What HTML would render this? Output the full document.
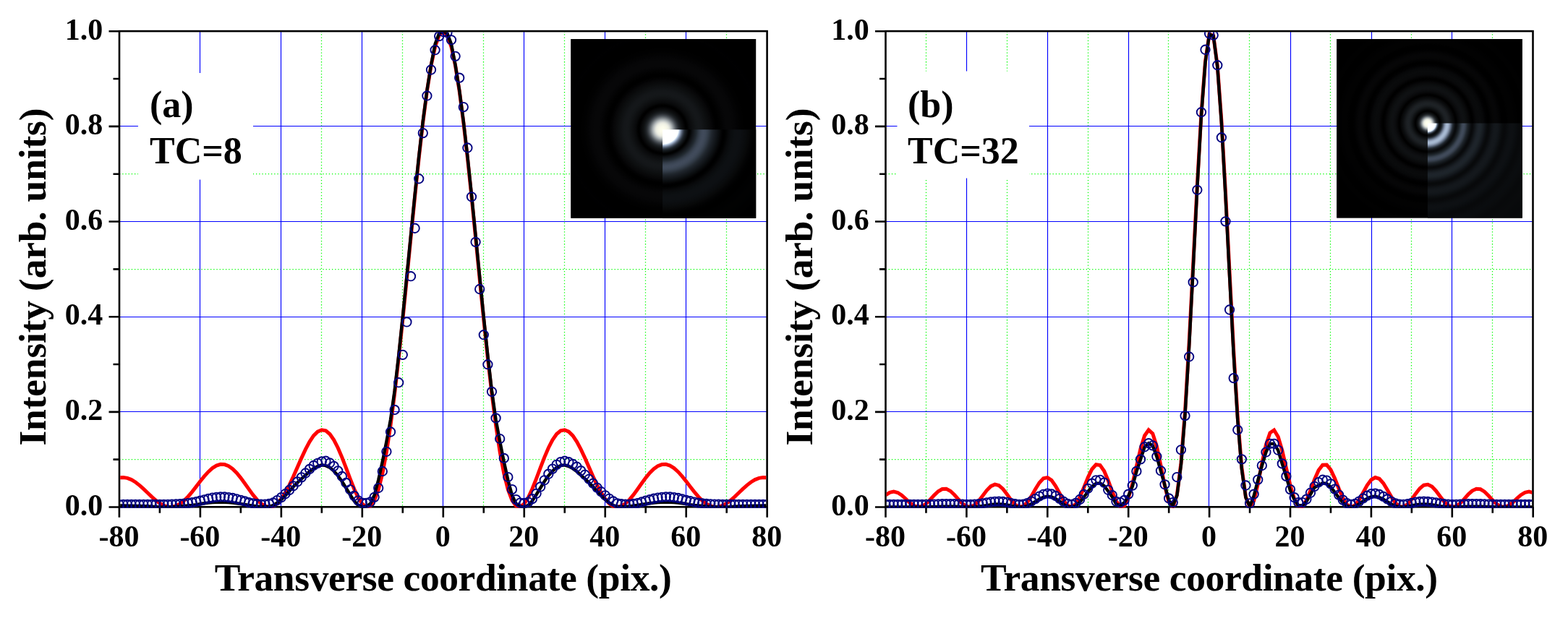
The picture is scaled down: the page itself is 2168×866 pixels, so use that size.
<!DOCTYPE html>
<html lang="en"><head><meta charset="utf-8"><title>Intensity profiles</title>
<style>
html,body{margin:0;padding:0;background:#fff;}
body{width:2168px;height:866px;overflow:hidden;}
svg{display:block;}
text.b{font-family:"Liberation Serif", serif;font-weight:bold;fill:#000;}
</style></head><body>
<svg width="2168" height="866" viewBox="0 0 2168 866">
<defs><radialGradient id="gta" gradientUnits="userSpaceOnUse" cx="0" cy="0" r="200"><stop offset="0.0000" stop-color="#ffffee"/><stop offset="0.0083" stop-color="#fefeee"/><stop offset="0.0167" stop-color="#fcfcec"/><stop offset="0.0250" stop-color="#f9f9ea"/><stop offset="0.0333" stop-color="#f4f5e7"/><stop offset="0.0417" stop-color="#eeefe4"/><stop offset="0.0500" stop-color="#dfe1da"/><stop offset="0.0583" stop-color="#c6cac8"/><stop offset="0.0667" stop-color="#abb1b3"/><stop offset="0.0750" stop-color="#8c9296"/><stop offset="0.0833" stop-color="#6e7478"/><stop offset="0.0917" stop-color="#51575d"/><stop offset="0.1000" stop-color="#3b4046"/><stop offset="0.1083" stop-color="#292d31"/><stop offset="0.1167" stop-color="#1c2023"/><stop offset="0.1250" stop-color="#141719"/><stop offset="0.1333" stop-color="#0e1011"/><stop offset="0.1417" stop-color="#0a0b0c"/><stop offset="0.1500" stop-color="#060607"/><stop offset="0.1583" stop-color="#010101"/><stop offset="0.1667" stop-color="#000000"/><stop offset="0.1750" stop-color="#030303"/><stop offset="0.1833" stop-color="#070809"/><stop offset="0.1917" stop-color="#0a0b0c"/><stop offset="0.2000" stop-color="#0c0d0f"/><stop offset="0.2083" stop-color="#0e1011"/><stop offset="0.2167" stop-color="#101214"/><stop offset="0.2250" stop-color="#121416"/><stop offset="0.2333" stop-color="#131618"/><stop offset="0.2417" stop-color="#141719"/><stop offset="0.2500" stop-color="#15171a"/><stop offset="0.2583" stop-color="#141719"/><stop offset="0.2667" stop-color="#141619"/><stop offset="0.2750" stop-color="#121517"/><stop offset="0.2833" stop-color="#111315"/><stop offset="0.2917" stop-color="#0f1113"/><stop offset="0.3000" stop-color="#0e1011"/><stop offset="0.3083" stop-color="#0c0e0f"/><stop offset="0.3167" stop-color="#0b0c0d"/><stop offset="0.3250" stop-color="#090a0b"/><stop offset="0.3333" stop-color="#080809"/><stop offset="0.3417" stop-color="#060607"/><stop offset="0.3500" stop-color="#030304"/><stop offset="0.3583" stop-color="#020202"/><stop offset="0.3667" stop-color="#000000"/><stop offset="0.3750" stop-color="#000000"/><stop offset="0.3833" stop-color="#000000"/><stop offset="0.3917" stop-color="#010101"/><stop offset="0.4000" stop-color="#020202"/><stop offset="0.4083" stop-color="#030303"/><stop offset="0.4167" stop-color="#040405"/><stop offset="0.4250" stop-color="#050506"/><stop offset="0.4333" stop-color="#060607"/><stop offset="0.4417" stop-color="#070708"/><stop offset="0.4500" stop-color="#070708"/><stop offset="0.4583" stop-color="#070708"/><stop offset="0.4667" stop-color="#070708"/><stop offset="0.4750" stop-color="#070708"/><stop offset="0.4833" stop-color="#060607"/><stop offset="0.4917" stop-color="#060607"/><stop offset="0.5000" stop-color="#050506"/><stop offset="0.5083" stop-color="#040405"/><stop offset="0.5167" stop-color="#030304"/><stop offset="0.5250" stop-color="#030303"/><stop offset="0.5333" stop-color="#020202"/><stop offset="0.5417" stop-color="#010102"/><stop offset="0.5500" stop-color="#010101"/><stop offset="0.5583" stop-color="#010101"/><stop offset="0.5667" stop-color="#000000"/><stop offset="0.5750" stop-color="#000000"/><stop offset="0.5833" stop-color="#000000"/><stop offset="0.5917" stop-color="#000000"/><stop offset="0.6000" stop-color="#000000"/><stop offset="0.6083" stop-color="#000000"/><stop offset="0.6167" stop-color="#000000"/><stop offset="0.6250" stop-color="#000000"/><stop offset="0.6333" stop-color="#000000"/><stop offset="0.6417" stop-color="#000000"/><stop offset="0.6500" stop-color="#000001"/><stop offset="0.6583" stop-color="#000001"/><stop offset="0.6667" stop-color="#010101"/><stop offset="0.6750" stop-color="#000001"/><stop offset="0.6833" stop-color="#000001"/><stop offset="0.6917" stop-color="#000000"/><stop offset="0.7000" stop-color="#000000"/><stop offset="0.7083" stop-color="#000000"/><stop offset="0.7167" stop-color="#000000"/><stop offset="0.7250" stop-color="#000000"/><stop offset="0.7333" stop-color="#000000"/><stop offset="0.7417" stop-color="#000000"/><stop offset="0.7500" stop-color="#000000"/><stop offset="0.7583" stop-color="#000000"/><stop offset="0.7667" stop-color="#000000"/><stop offset="0.7750" stop-color="#000000"/><stop offset="0.7833" stop-color="#000000"/><stop offset="0.7917" stop-color="#000000"/><stop offset="0.8000" stop-color="#000000"/><stop offset="0.8083" stop-color="#000000"/><stop offset="0.8167" stop-color="#000000"/><stop offset="0.8250" stop-color="#000000"/><stop offset="0.8333" stop-color="#000000"/><stop offset="0.8417" stop-color="#000000"/><stop offset="0.8500" stop-color="#000000"/><stop offset="0.8583" stop-color="#000000"/><stop offset="0.8667" stop-color="#000000"/><stop offset="0.8750" stop-color="#000000"/><stop offset="0.8833" stop-color="#000000"/><stop offset="0.8917" stop-color="#000000"/><stop offset="0.9000" stop-color="#000000"/><stop offset="0.9083" stop-color="#000000"/><stop offset="0.9167" stop-color="#000000"/><stop offset="0.9250" stop-color="#000000"/><stop offset="0.9333" stop-color="#000000"/><stop offset="0.9417" stop-color="#000000"/><stop offset="0.9500" stop-color="#000000"/><stop offset="0.9583" stop-color="#000000"/><stop offset="0.9667" stop-color="#000000"/><stop offset="0.9750" stop-color="#000000"/><stop offset="0.9833" stop-color="#000000"/><stop offset="0.9917" stop-color="#000000"/><stop offset="1.0000" stop-color="#000000"/></radialGradient>
<radialGradient id="gea" gradientUnits="userSpaceOnUse" cx="0" cy="0" r="200"><stop offset="0.0000" stop-color="#ffffff"/><stop offset="0.0083" stop-color="#ffffff"/><stop offset="0.0167" stop-color="#ffffff"/><stop offset="0.0250" stop-color="#ffffff"/><stop offset="0.0333" stop-color="#ffffff"/><stop offset="0.0417" stop-color="#ffffff"/><stop offset="0.0500" stop-color="#ffffff"/><stop offset="0.0583" stop-color="#ffffff"/><stop offset="0.0667" stop-color="#ffffff"/><stop offset="0.0750" stop-color="#ffffff"/><stop offset="0.0833" stop-color="#ffffff"/><stop offset="0.0917" stop-color="#ffffff"/><stop offset="0.1000" stop-color="#faffff"/><stop offset="0.1083" stop-color="#b4c6df"/><stop offset="0.1167" stop-color="#7f8ea4"/><stop offset="0.1250" stop-color="#525d6f"/><stop offset="0.1333" stop-color="#303944"/><stop offset="0.1417" stop-color="#1c2227"/><stop offset="0.1500" stop-color="#12161a"/><stop offset="0.1583" stop-color="#090b0c"/><stop offset="0.1667" stop-color="#010101"/><stop offset="0.1750" stop-color="#020303"/><stop offset="0.1833" stop-color="#0a0c0e"/><stop offset="0.1917" stop-color="#111418"/><stop offset="0.2000" stop-color="#171b20"/><stop offset="0.2083" stop-color="#1c2329"/><stop offset="0.2167" stop-color="#232b32"/><stop offset="0.2250" stop-color="#2d3540"/><stop offset="0.2333" stop-color="#353e4b"/><stop offset="0.2417" stop-color="#3b4553"/><stop offset="0.2500" stop-color="#3f4959"/><stop offset="0.2583" stop-color="#414b5b"/><stop offset="0.2667" stop-color="#404a5a"/><stop offset="0.2750" stop-color="#3d4756"/><stop offset="0.2833" stop-color="#38424f"/><stop offset="0.2917" stop-color="#323b47"/><stop offset="0.3000" stop-color="#2b333d"/><stop offset="0.3083" stop-color="#242b32"/><stop offset="0.3167" stop-color="#1e242b"/><stop offset="0.3250" stop-color="#1a1f25"/><stop offset="0.3333" stop-color="#161a1f"/><stop offset="0.3417" stop-color="#12161a"/><stop offset="0.3500" stop-color="#0e1114"/><stop offset="0.3583" stop-color="#0a0d0f"/><stop offset="0.3667" stop-color="#070809"/><stop offset="0.3750" stop-color="#030304"/><stop offset="0.3833" stop-color="#000001"/><stop offset="0.3917" stop-color="#000000"/><stop offset="0.4000" stop-color="#010202"/><stop offset="0.4083" stop-color="#040405"/><stop offset="0.4167" stop-color="#070809"/><stop offset="0.4250" stop-color="#090a0c"/><stop offset="0.4333" stop-color="#0a0c0e"/><stop offset="0.4417" stop-color="#0b0e10"/><stop offset="0.4500" stop-color="#0c0f11"/><stop offset="0.4583" stop-color="#0d1013"/><stop offset="0.4667" stop-color="#0d1013"/><stop offset="0.4750" stop-color="#0e1013"/><stop offset="0.4833" stop-color="#0d1013"/><stop offset="0.4917" stop-color="#0d1013"/><stop offset="0.5000" stop-color="#0c0f12"/><stop offset="0.5083" stop-color="#0c0e11"/><stop offset="0.5167" stop-color="#0b0d0f"/><stop offset="0.5250" stop-color="#0a0c0e"/><stop offset="0.5333" stop-color="#090b0c"/><stop offset="0.5417" stop-color="#08090a"/><stop offset="0.5500" stop-color="#070808"/><stop offset="0.5583" stop-color="#050506"/><stop offset="0.5667" stop-color="#030404"/><stop offset="0.5750" stop-color="#020203"/><stop offset="0.5833" stop-color="#010101"/><stop offset="0.5917" stop-color="#000101"/><stop offset="0.6000" stop-color="#000000"/><stop offset="0.6083" stop-color="#000000"/><stop offset="0.6167" stop-color="#000000"/><stop offset="0.6250" stop-color="#000000"/><stop offset="0.6333" stop-color="#000101"/><stop offset="0.6417" stop-color="#010101"/><stop offset="0.6500" stop-color="#010101"/><stop offset="0.6583" stop-color="#010102"/><stop offset="0.6667" stop-color="#010202"/><stop offset="0.6750" stop-color="#020202"/><stop offset="0.6833" stop-color="#020202"/><stop offset="0.6917" stop-color="#020202"/><stop offset="0.7000" stop-color="#020202"/><stop offset="0.7083" stop-color="#010202"/><stop offset="0.7167" stop-color="#010202"/><stop offset="0.7250" stop-color="#010102"/><stop offset="0.7333" stop-color="#010101"/><stop offset="0.7417" stop-color="#010101"/><stop offset="0.7500" stop-color="#010101"/><stop offset="0.7583" stop-color="#010101"/><stop offset="0.7667" stop-color="#000001"/><stop offset="0.7750" stop-color="#000000"/><stop offset="0.7833" stop-color="#000000"/><stop offset="0.7917" stop-color="#000000"/><stop offset="0.8000" stop-color="#000000"/><stop offset="0.8083" stop-color="#000000"/><stop offset="0.8167" stop-color="#000000"/><stop offset="0.8250" stop-color="#000000"/><stop offset="0.8333" stop-color="#000000"/><stop offset="0.8417" stop-color="#000000"/><stop offset="0.8500" stop-color="#000000"/><stop offset="0.8583" stop-color="#000000"/><stop offset="0.8667" stop-color="#000000"/><stop offset="0.8750" stop-color="#000000"/><stop offset="0.8833" stop-color="#000000"/><stop offset="0.8917" stop-color="#000000"/><stop offset="0.9000" stop-color="#000000"/><stop offset="0.9083" stop-color="#000000"/><stop offset="0.9167" stop-color="#000000"/><stop offset="0.9250" stop-color="#000000"/><stop offset="0.9333" stop-color="#000000"/><stop offset="0.9417" stop-color="#000000"/><stop offset="0.9500" stop-color="#000000"/><stop offset="0.9583" stop-color="#000000"/><stop offset="0.9667" stop-color="#000000"/><stop offset="0.9750" stop-color="#000000"/><stop offset="0.9833" stop-color="#000000"/><stop offset="0.9917" stop-color="#000000"/><stop offset="1.0000" stop-color="#000000"/></radialGradient>
<clipPath id="cia"><rect x="789.3" y="53.9" width="255.9" height="247.8"/></clipPath>
<clipPath id="cpa"><rect x="166.2" y="44.3" width="893.1" height="658.4"/></clipPath>
<radialGradient id="gtb" gradientUnits="userSpaceOnUse" cx="0" cy="0" r="200"><stop offset="0.0000" stop-color="#ffffee"/><stop offset="0.0083" stop-color="#ffffee"/><stop offset="0.0167" stop-color="#f9faeb"/><stop offset="0.0250" stop-color="#eeeee4"/><stop offset="0.0333" stop-color="#c2c7c5"/><stop offset="0.0417" stop-color="#878d91"/><stop offset="0.0500" stop-color="#4d5359"/><stop offset="0.0583" stop-color="#272b2f"/><stop offset="0.0667" stop-color="#131618"/><stop offset="0.0750" stop-color="#090a0b"/><stop offset="0.0833" stop-color="#000000"/><stop offset="0.0917" stop-color="#050506"/><stop offset="0.1000" stop-color="#0b0d0e"/><stop offset="0.1083" stop-color="#111416"/><stop offset="0.1167" stop-color="#181b1e"/><stop offset="0.1250" stop-color="#1c2023"/><stop offset="0.1333" stop-color="#1e2226"/><stop offset="0.1417" stop-color="#1d2124"/><stop offset="0.1500" stop-color="#1a1d20"/><stop offset="0.1583" stop-color="#15171a"/><stop offset="0.1667" stop-color="#0f1113"/><stop offset="0.1750" stop-color="#0a0c0d"/><stop offset="0.1833" stop-color="#070708"/><stop offset="0.1917" stop-color="#010101"/><stop offset="0.2000" stop-color="#010101"/><stop offset="0.2083" stop-color="#060607"/><stop offset="0.2167" stop-color="#090a0b"/><stop offset="0.2250" stop-color="#0c0d0f"/><stop offset="0.2333" stop-color="#0e0f11"/><stop offset="0.2417" stop-color="#0f1113"/><stop offset="0.2500" stop-color="#0f1113"/><stop offset="0.2583" stop-color="#0e1011"/><stop offset="0.2667" stop-color="#0c0e0f"/><stop offset="0.2750" stop-color="#0a0b0c"/><stop offset="0.2833" stop-color="#080809"/><stop offset="0.2917" stop-color="#040405"/><stop offset="0.3000" stop-color="#010101"/><stop offset="0.3083" stop-color="#000000"/><stop offset="0.3167" stop-color="#020202"/><stop offset="0.3250" stop-color="#050506"/><stop offset="0.3333" stop-color="#080809"/><stop offset="0.3417" stop-color="#090a0b"/><stop offset="0.3500" stop-color="#090a0b"/><stop offset="0.3583" stop-color="#0a0b0c"/><stop offset="0.3667" stop-color="#090a0b"/><stop offset="0.3750" stop-color="#08090a"/><stop offset="0.3833" stop-color="#070809"/><stop offset="0.3917" stop-color="#050506"/><stop offset="0.4000" stop-color="#020203"/><stop offset="0.4083" stop-color="#010101"/><stop offset="0.4167" stop-color="#000000"/><stop offset="0.4250" stop-color="#000000"/><stop offset="0.4333" stop-color="#020202"/><stop offset="0.4417" stop-color="#030304"/><stop offset="0.4500" stop-color="#050505"/><stop offset="0.4583" stop-color="#060606"/><stop offset="0.4667" stop-color="#060607"/><stop offset="0.4750" stop-color="#060607"/><stop offset="0.4833" stop-color="#050506"/><stop offset="0.4917" stop-color="#040404"/><stop offset="0.5000" stop-color="#020203"/><stop offset="0.5083" stop-color="#010101"/><stop offset="0.5167" stop-color="#000000"/><stop offset="0.5250" stop-color="#000000"/><stop offset="0.5333" stop-color="#000000"/><stop offset="0.5417" stop-color="#000000"/><stop offset="0.5500" stop-color="#010101"/><stop offset="0.5583" stop-color="#020202"/><stop offset="0.5667" stop-color="#020202"/><stop offset="0.5750" stop-color="#020202"/><stop offset="0.5833" stop-color="#020202"/><stop offset="0.5917" stop-color="#020202"/><stop offset="0.6000" stop-color="#010102"/><stop offset="0.6083" stop-color="#010101"/><stop offset="0.6167" stop-color="#010101"/><stop offset="0.6250" stop-color="#000000"/><stop offset="0.6333" stop-color="#000000"/><stop offset="0.6417" stop-color="#000000"/><stop offset="0.6500" stop-color="#000000"/><stop offset="0.6583" stop-color="#000000"/><stop offset="0.6667" stop-color="#000000"/><stop offset="0.6750" stop-color="#010101"/><stop offset="0.6833" stop-color="#010101"/><stop offset="0.6917" stop-color="#010101"/><stop offset="0.7000" stop-color="#010101"/><stop offset="0.7083" stop-color="#000001"/><stop offset="0.7167" stop-color="#000000"/><stop offset="0.7250" stop-color="#000000"/><stop offset="0.7333" stop-color="#000000"/><stop offset="0.7417" stop-color="#000000"/><stop offset="0.7500" stop-color="#000000"/><stop offset="0.7583" stop-color="#000000"/><stop offset="0.7667" stop-color="#000000"/><stop offset="0.7750" stop-color="#000000"/><stop offset="0.7833" stop-color="#000000"/><stop offset="0.7917" stop-color="#000000"/><stop offset="0.8000" stop-color="#000000"/><stop offset="0.8083" stop-color="#000000"/><stop offset="0.8167" stop-color="#000000"/><stop offset="0.8250" stop-color="#000000"/><stop offset="0.8333" stop-color="#000000"/><stop offset="0.8417" stop-color="#000000"/><stop offset="0.8500" stop-color="#000000"/><stop offset="0.8583" stop-color="#000000"/><stop offset="0.8667" stop-color="#000000"/><stop offset="0.8750" stop-color="#000000"/><stop offset="0.8833" stop-color="#000000"/><stop offset="0.8917" stop-color="#000000"/><stop offset="0.9000" stop-color="#000000"/><stop offset="0.9083" stop-color="#000000"/><stop offset="0.9167" stop-color="#000000"/><stop offset="0.9250" stop-color="#000000"/><stop offset="0.9333" stop-color="#000000"/><stop offset="0.9417" stop-color="#000000"/><stop offset="0.9500" stop-color="#000000"/><stop offset="0.9583" stop-color="#000000"/><stop offset="0.9667" stop-color="#000000"/><stop offset="0.9750" stop-color="#000000"/><stop offset="0.9833" stop-color="#000000"/><stop offset="0.9917" stop-color="#000000"/><stop offset="1.0000" stop-color="#000000"/></radialGradient>
<radialGradient id="geb" gradientUnits="userSpaceOnUse" cx="0" cy="0" r="200"><stop offset="0.0000" stop-color="#ffffff"/><stop offset="0.0083" stop-color="#ffffff"/><stop offset="0.0167" stop-color="#ffffff"/><stop offset="0.0250" stop-color="#ffffff"/><stop offset="0.0333" stop-color="#ffffff"/><stop offset="0.0417" stop-color="#ffffff"/><stop offset="0.0500" stop-color="#ffffff"/><stop offset="0.0583" stop-color="#deecfc"/><stop offset="0.0667" stop-color="#5e6b7e"/><stop offset="0.0750" stop-color="#1c2228"/><stop offset="0.0833" stop-color="#090b0d"/><stop offset="0.0917" stop-color="#0f1215"/><stop offset="0.1000" stop-color="#21282e"/><stop offset="0.1083" stop-color="#4a5566"/><stop offset="0.1167" stop-color="#78869b"/><stop offset="0.1250" stop-color="#9aaac3"/><stop offset="0.1333" stop-color="#a9bbd3"/><stop offset="0.1417" stop-color="#a4b6ce"/><stop offset="0.1500" stop-color="#8e9db5"/><stop offset="0.1583" stop-color="#6a778b"/><stop offset="0.1667" stop-color="#424d5d"/><stop offset="0.1750" stop-color="#222930"/><stop offset="0.1833" stop-color="#14181d"/><stop offset="0.1917" stop-color="#0a0c0e"/><stop offset="0.2000" stop-color="#090b0d"/><stop offset="0.2083" stop-color="#111518"/><stop offset="0.2167" stop-color="#1a2025"/><stop offset="0.2250" stop-color="#262e36"/><stop offset="0.2333" stop-color="#353f4b"/><stop offset="0.2417" stop-color="#3f4958"/><stop offset="0.2500" stop-color="#414b5b"/><stop offset="0.2583" stop-color="#3b4553"/><stop offset="0.2667" stop-color="#303843"/><stop offset="0.2750" stop-color="#21282f"/><stop offset="0.2833" stop-color="#191e23"/><stop offset="0.2917" stop-color="#111519"/><stop offset="0.3000" stop-color="#0b0d0f"/><stop offset="0.3083" stop-color="#08090b"/><stop offset="0.3167" stop-color="#0b0d0f"/><stop offset="0.3250" stop-color="#101317"/><stop offset="0.3333" stop-color="#151a1e"/><stop offset="0.3417" stop-color="#1a1f25"/><stop offset="0.3500" stop-color="#1d2329"/><stop offset="0.3583" stop-color="#1e242b"/><stop offset="0.3667" stop-color="#1d242a"/><stop offset="0.3750" stop-color="#1b2126"/><stop offset="0.3833" stop-color="#171c21"/><stop offset="0.3917" stop-color="#13171c"/><stop offset="0.4000" stop-color="#0e1115"/><stop offset="0.4083" stop-color="#0b0d0f"/><stop offset="0.4167" stop-color="#080a0b"/><stop offset="0.4250" stop-color="#090a0c"/><stop offset="0.4333" stop-color="#0b0d0f"/><stop offset="0.4417" stop-color="#0e1114"/><stop offset="0.4500" stop-color="#111418"/><stop offset="0.4583" stop-color="#13171b"/><stop offset="0.4667" stop-color="#14181c"/><stop offset="0.4750" stop-color="#14181c"/><stop offset="0.4833" stop-color="#13171b"/><stop offset="0.4917" stop-color="#111519"/><stop offset="0.5000" stop-color="#0f1215"/><stop offset="0.5083" stop-color="#0c0f11"/><stop offset="0.5167" stop-color="#0a0c0e"/><stop offset="0.5250" stop-color="#080a0b"/><stop offset="0.5333" stop-color="#08090b"/><stop offset="0.5417" stop-color="#090a0c"/><stop offset="0.5500" stop-color="#0a0c0e"/><stop offset="0.5583" stop-color="#0b0e10"/><stop offset="0.5667" stop-color="#0d0f12"/><stop offset="0.5750" stop-color="#0d1013"/><stop offset="0.5833" stop-color="#0e1013"/><stop offset="0.5917" stop-color="#0d1013"/><stop offset="0.6000" stop-color="#0c0f12"/><stop offset="0.6083" stop-color="#0b0e10"/><stop offset="0.6167" stop-color="#0a0c0f"/><stop offset="0.6250" stop-color="#090b0d"/><stop offset="0.6333" stop-color="#080a0b"/><stop offset="0.6417" stop-color="#08090b"/><stop offset="0.6500" stop-color="#080a0b"/><stop offset="0.6583" stop-color="#090a0c"/><stop offset="0.6667" stop-color="#090b0d"/><stop offset="0.6750" stop-color="#0a0c0e"/><stop offset="0.6833" stop-color="#0a0c0e"/><stop offset="0.6917" stop-color="#0a0d0f"/><stop offset="0.7000" stop-color="#0a0c0f"/><stop offset="0.7083" stop-color="#0a0c0e"/><stop offset="0.7167" stop-color="#0a0c0d"/><stop offset="0.7250" stop-color="#090b0d"/><stop offset="0.7333" stop-color="#090a0c"/><stop offset="0.7417" stop-color="#080a0b"/><stop offset="0.7500" stop-color="#08090b"/><stop offset="0.7583" stop-color="#08090b"/><stop offset="0.7667" stop-color="#080a0b"/><stop offset="0.7750" stop-color="#080a0b"/><stop offset="0.7833" stop-color="#090a0c"/><stop offset="0.7917" stop-color="#090a0c"/><stop offset="0.8000" stop-color="#090b0c"/><stop offset="0.8083" stop-color="#090b0c"/><stop offset="0.8167" stop-color="#090a0c"/><stop offset="0.8250" stop-color="#090a0c"/><stop offset="0.8333" stop-color="#080a0b"/><stop offset="0.8417" stop-color="#080a0b"/><stop offset="0.8500" stop-color="#080a0b"/><stop offset="0.8583" stop-color="#08090b"/><stop offset="0.8667" stop-color="#08090b"/><stop offset="0.8750" stop-color="#08090b"/><stop offset="0.8833" stop-color="#080a0b"/><stop offset="0.8917" stop-color="#080a0b"/><stop offset="0.9000" stop-color="#080a0b"/><stop offset="0.9083" stop-color="#080a0b"/><stop offset="0.9167" stop-color="#080a0b"/><stop offset="0.9250" stop-color="#080a0b"/><stop offset="0.9333" stop-color="#080a0b"/><stop offset="0.9417" stop-color="#080a0b"/><stop offset="0.9500" stop-color="#080a0b"/><stop offset="0.9583" stop-color="#080a0b"/><stop offset="0.9667" stop-color="#08090b"/><stop offset="0.9750" stop-color="#08090b"/><stop offset="0.9833" stop-color="#08090b"/><stop offset="0.9917" stop-color="#08090b"/><stop offset="1.0000" stop-color="#08090b"/></radialGradient>
<clipPath id="cib"><rect x="1848.2" y="53.9" width="256.6" height="247.6"/></clipPath>
<clipPath id="cpb"><rect x="1225.7" y="44.3" width="892.5" height="658.4"/></clipPath></defs>
<rect x="0" y="0" width="2168" height="866" fill="#fff"/>
<g id="plot-a"><path d="M444.5 43.1V701.3M556.5 43.1V701.3M668.5 43.1V701.3M780.5 43.1V701.3M892.5 43.1V701.3M1004.5 43.1V701.3M165 635.5H1060.6M165 372.5H1060.6M165 240.5H1060.6" fill="none" stroke="#00ff00" stroke-width="1.25" stroke-dasharray="1.3 2.9"/>
<path d="M276.5 43.1V701.3M388.5 43.1V701.3M500.5 43.1V701.3M612.5 43.1V701.3M724.5 43.1V701.3M836.5 43.1V701.3M948.5 43.1V701.3M165 569.5H1060.6M165 438.5H1060.6M165 306.5H1060.6M165 174.5H1060.6" fill="none" stroke="#0000ff" stroke-width="1.15"/>
<rect x="191" y="101" width="159" height="147.5" fill="#fff"/>
<text x="207" y="161.8" font-size="52" class="b">(a)</text>
<text x="207" y="226" font-size="52" class="b">TC=8</text>
<g clip-path="url(#cia)"><rect x="789.3" y="53.9" width="255.9" height="247.8" fill="#000"/>
<g transform="translate(916.1 179.2)"><circle r="200" fill="url(#gta)"/><path transform="scale(1.09 1)" d="M0 0H200 V200 H0Z" fill="url(#gea)"/></g></g>
<rect x="165" y="43.1" width="895.6" height="658.2" fill="none" stroke="#000" stroke-width="2.6"/>
<path d="M164.9 701.3v14.5M220.89 701.3v8.5M276.88 701.3v14.5M332.86 701.3v8.5M388.85 701.3v14.5M444.84 701.3v8.5M500.83 701.3v14.5M556.81 701.3v8.5M612.8 701.3v14.5M668.79 701.3v8.5M724.77 701.3v14.5M780.76 701.3v8.5M836.75 701.3v14.5M892.74 701.3v8.5M948.73 701.3v14.5M1004.71 701.3v8.5M1060.7 701.3v14.5M165 701.5h-14.5M165 635.67h-8.5M165 569.84h-14.5M165 504.01h-8.5M165 438.18h-14.5M165 372.35h-8.5M165 306.52h-14.5M165 240.69h-8.5M165 174.86h-14.5M165 109.03h-8.5M165 43.2h-14.5" stroke="#000" stroke-width="2.6" fill="none"/>
<text x="164.4" y="755.6" font-size="42" text-anchor="middle" class="b">-80</text>
<text x="276.38" y="755.6" font-size="42" text-anchor="middle" class="b">-60</text>
<text x="388.35" y="755.6" font-size="42" text-anchor="middle" class="b">-40</text>
<text x="500.33" y="755.6" font-size="42" text-anchor="middle" class="b">-20</text>
<text x="612.3" y="755.6" font-size="42" text-anchor="middle" class="b">0</text>
<text x="724.27" y="755.6" font-size="42" text-anchor="middle" class="b">20</text>
<text x="836.25" y="755.6" font-size="42" text-anchor="middle" class="b">40</text>
<text x="948.23" y="755.6" font-size="42" text-anchor="middle" class="b">60</text>
<text x="1060.2" y="755.6" font-size="42" text-anchor="middle" class="b">80</text>
<text x="142.2" y="712.8" font-size="42" text-anchor="end" class="b">0.0</text>
<text x="142.2" y="581.14" font-size="42" text-anchor="end" class="b">0.2</text>
<text x="142.2" y="449.48" font-size="42" text-anchor="end" class="b">0.4</text>
<text x="142.2" y="317.82" font-size="42" text-anchor="end" class="b">0.6</text>
<text x="142.2" y="186.16" font-size="42" text-anchor="end" class="b">0.8</text>
<text x="142.2" y="54.5" font-size="42" text-anchor="end" class="b">1.0</text>
<text x="612.8" y="817.2" font-size="53.5" text-anchor="middle" class="b" textLength="632" lengthAdjust="spacing">Transverse coordinate (pix.)</text>
<text transform="translate(62.9 383) rotate(-90)" font-size="53.5" text-anchor="middle" class="b" textLength="467" lengthAdjust="spacing">Intensity (arb. units)</text>
<g clip-path="url(#cpa)">
<polyline points="164.9,660.92 170.5,660.47 176.1,661.38 181.7,663.59 187.3,666.98 192.89,671.34 198.49,676.37 204.09,681.75 209.69,687.11 215.29,692.07 220.89,696.27 226.49,699.39 232.09,701.16 237.68,701.4 243.28,700.04 248.88,697.08 254.48,692.64 260.08,686.96 265.68,680.33 271.28,673.15 276.88,665.84 282.47,658.86 288.07,652.65 293.67,647.61 299.27,644.1 304.87,642.37 310.47,642.56 316.07,644.69 321.67,648.67 327.26,654.25 332.86,661.09 338.46,668.74 344.06,676.68 349.66,684.35 355.26,691.17 360.86,696.6 366.46,700.17 372.05,701.5 377.65,700.33 383.25,696.55 388.85,690.24 394.45,681.61 400.05,671.05 405.65,659.09 411.25,646.37 416.84,633.62 422.44,621.59 428.04,611.06 433.64,602.7 439.24,597.12 444.84,594.77 450.44,595.9 456.04,600.56 461.63,608.56 467.23,619.47 472.83,632.64 478.43,647.2 484.03,662.12 489.63,676.22 495.23,688.27 500.83,697.01 506.42,701.27 512.02,699.95 517.62,692.18 523.22,677.31 528.82,654.97 534.42,625.15 540.02,588.12 545.62,544.55 551.21,495.41 556.81,441.97 562.41,385.75 568.01,328.49 573.61,272.01 579.21,218.21 584.81,168.95 590.4,125.96 596,90.77 601.6,64.67 607.2,48.62 612.8,43.2 618.4,48.62 624,64.67 629.6,90.77 635.2,125.96 640.79,168.95 646.39,218.21 651.99,272.01 657.59,328.49 663.19,385.75 668.79,441.97 674.39,495.41 679.99,544.55 685.58,588.12 691.18,625.15 696.78,654.97 702.38,677.31 707.98,692.18 713.58,699.95 719.18,701.27 724.77,697.01 730.37,688.27 735.97,676.22 741.57,662.12 747.17,647.2 752.77,632.64 758.37,619.47 763.97,608.56 769.57,600.56 775.16,595.9 780.76,594.77 786.36,597.12 791.96,602.7 797.56,611.06 803.16,621.59 808.76,633.62 814.36,646.37 819.95,659.09 825.55,671.05 831.15,681.61 836.75,690.24 842.35,696.55 847.95,700.33 853.55,701.5 859.15,700.17 864.74,696.6 870.34,691.17 875.94,684.35 881.54,676.68 887.14,668.74 892.74,661.09 898.34,654.25 903.93,648.67 909.53,644.69 915.13,642.56 920.73,642.37 926.33,644.1 931.93,647.61 937.53,652.65 943.13,658.86 948.73,665.84 954.32,673.15 959.92,680.33 965.52,686.96 971.12,692.64 976.72,697.08 982.32,700.04 987.92,701.4 993.52,701.16 999.11,699.39 1004.71,696.27 1010.31,692.07 1015.91,687.11 1021.51,681.75 1027.11,676.37 1032.71,671.34 1038.31,666.98 1043.9,663.59 1049.5,661.38 1055.1,660.47 1060.7,660.92" fill="none" stroke="#ff0000" stroke-width="5" stroke-linejoin="miter" stroke-miterlimit="6"/>
<polyline points="164.9,699.53 170.5,699.57 176.1,699.65 181.7,699.76 187.3,699.88 192.89,700.03 198.49,700.18 204.09,700.42 209.69,700.76 215.29,701.11 220.89,701.39 226.49,701.5 232.09,701.4 237.68,701.14 243.28,700.84 248.88,700.48 254.48,700.01 260.08,699.47 265.68,698.87 271.28,698.09 276.88,697.14 282.47,696.23 288.07,695.58 293.67,695.11 299.27,694.74 304.87,694.59 310.47,694.74 316.07,695.11 321.67,695.58 327.26,696.21 332.86,697.09 338.46,698.03 344.06,698.87 349.66,699.7 355.26,700.49 360.86,700.84 366.46,700.84 372.05,700.84 377.65,699.07 383.25,695.58 388.85,691.15 394.45,685.7 400.05,679.6 405.65,673.29 411.25,667.69 416.84,662.41 422.44,657.39 428.04,652.32 433.64,648.18 439.24,645.14 444.84,643.31 450.44,644.17 456.04,646.86 461.63,651.51 467.23,658.05 472.83,666 478.43,675.01 484.03,684.24 489.63,692.94 495.23,699.07 500.83,701.45 506.42,700.51 512.02,696.89 517.62,685.04 523.22,663.97 528.82,638.59 534.42,610.65 540.02,580.36 545.62,540.53 551.21,491.87 556.81,438.53 562.41,382.55 568.01,325.64 573.61,269.6 579.21,216.28 584.81,167.51 590.4,124.98 596,90.2 601.6,60.97 607.2,46.16 612.8,43.2 618.4,46.16 624,60.97 629.6,90.2 635.2,124.98 640.79,167.51 646.39,216.28 651.99,269.6 657.59,325.64 663.19,382.55 668.79,438.53 674.39,491.87 679.99,540.53 685.58,580.36 691.18,610.65 696.78,638.59 702.38,663.97 707.98,685.04 713.58,696.89 719.18,700.51 724.77,701.45 730.37,699.07 735.97,692.94 741.57,684.24 747.17,675.01 752.77,666 758.37,658.05 763.97,651.51 769.57,646.86 775.16,644.17 780.76,643.31 786.36,645.14 791.96,648.18 797.56,652.32 803.16,657.39 808.76,662.41 814.36,667.69 819.95,673.29 825.55,679.6 831.15,685.7 836.75,691.15 842.35,695.58 847.95,699.07 853.55,700.84 859.15,700.84 864.74,700.84 870.34,700.49 875.94,699.7 881.54,698.87 887.14,698.03 892.74,697.09 898.34,696.21 903.93,695.58 909.53,695.11 915.13,694.74 920.73,694.59 926.33,694.74 931.93,695.11 937.53,695.58 943.13,696.23 948.73,697.14 954.32,698.09 959.92,698.87 965.52,699.47 971.12,700.01 976.72,700.48 982.32,700.84 987.92,701.14 993.52,701.4 999.11,701.5 1004.71,701.39 1010.31,701.11 1015.91,700.76 1021.51,700.42 1027.11,700.18 1032.71,700.03 1038.31,699.88 1043.9,699.76 1049.5,699.65 1055.1,699.57 1060.7,699.53" fill="none" stroke="#000000" stroke-width="4.4" stroke-linejoin="miter" stroke-miterlimit="6"/>
<g fill="none" stroke="#000080" stroke-width="1.9"><circle cx="164.9" cy="697.95" r="6.2"/><circle cx="170.5" cy="697.95" r="6.2"/><circle cx="176.1" cy="697.95" r="6.2"/><circle cx="181.7" cy="697.95" r="6.2"/><circle cx="187.3" cy="697.95" r="6.2"/><circle cx="192.89" cy="697.95" r="6.2"/><circle cx="198.49" cy="697.95" r="6.2"/><circle cx="204.09" cy="697.95" r="6.2"/><circle cx="209.69" cy="697.95" r="6.2"/><circle cx="215.29" cy="697.95" r="6.2"/><circle cx="220.89" cy="697.95" r="6.2"/><circle cx="226.49" cy="697.92" r="6.2"/><circle cx="232.09" cy="697.83" r="6.2"/><circle cx="237.68" cy="697.68" r="6.2"/><circle cx="243.28" cy="697.48" r="6.2"/><circle cx="248.88" cy="697.21" r="6.2"/><circle cx="254.48" cy="696.74" r="6.2"/><circle cx="260.08" cy="696.11" r="6.2"/><circle cx="265.68" cy="695.27" r="6.2"/><circle cx="271.28" cy="694.03" r="6.2"/><circle cx="276.88" cy="692.67" r="6.2"/><circle cx="282.47" cy="691.31" r="6.2"/><circle cx="288.07" cy="689.81" r="6.2"/><circle cx="293.67" cy="688.58" r="6.2"/><circle cx="299.27" cy="687.85" r="6.2"/><circle cx="304.87" cy="687.38" r="6.2"/><circle cx="310.47" cy="687.51" r="6.2"/><circle cx="316.07" cy="688.12" r="6.2"/><circle cx="321.67" cy="688.99" r="6.2"/><circle cx="327.26" cy="690.34" r="6.2"/><circle cx="332.86" cy="691.85" r="6.2"/><circle cx="338.46" cy="693.39" r="6.2"/><circle cx="344.06" cy="695.13" r="6.2"/><circle cx="349.66" cy="696.51" r="6.2"/><circle cx="355.26" cy="697.22" r="6.2"/><circle cx="360.86" cy="697.65" r="6.2"/><circle cx="366.46" cy="697.55" r="6.2"/><circle cx="372.05" cy="696.99" r="6.2"/><circle cx="377.65" cy="695.46" r="6.2"/><circle cx="383.25" cy="692.06" r="6.2"/><circle cx="388.85" cy="688.12" r="6.2"/><circle cx="394.45" cy="683.27" r="6.2"/><circle cx="400.05" cy="678.02" r="6.2"/><circle cx="405.65" cy="672.28" r="6.2"/><circle cx="411.25" cy="666.43" r="6.2"/><circle cx="416.84" cy="660.36" r="6.2"/><circle cx="422.44" cy="654.44" r="6.2"/><circle cx="428.04" cy="648.89" r="6.2"/><circle cx="433.64" cy="643.96" r="6.2"/><circle cx="439.24" cy="640.82" r="6.2"/><circle cx="444.84" cy="638.4" r="6.2"/><circle cx="450.44" cy="637.75" r="6.2"/><circle cx="456.04" cy="640.5" r="6.2"/><circle cx="461.63" cy="644.87" r="6.2"/><circle cx="467.23" cy="651.34" r="6.2"/><circle cx="472.83" cy="658.95" r="6.2"/><circle cx="478.43" cy="667.97" r="6.2"/><circle cx="484.03" cy="677.28" r="6.2"/><circle cx="489.63" cy="685.86" r="6.2"/><circle cx="495.23" cy="692.37" r="6.2"/><circle cx="500.83" cy="695.61" r="6.2"/><circle cx="506.42" cy="695.9" r="6.2"/><circle cx="512.02" cy="694.46" r="6.2"/><circle cx="517.62" cy="687.87" r="6.2"/><circle cx="523.22" cy="675.04" r="6.2"/><circle cx="528.82" cy="652" r="6.2"/><circle cx="534.42" cy="624.81" r="6.2"/><circle cx="540.02" cy="597.49" r="6.2"/><circle cx="545.62" cy="566.88" r="6.2"/><circle cx="551.21" cy="529.22" r="6.2"/><circle cx="556.81" cy="490.84" r="6.2"/><circle cx="562.41" cy="445.42" r="6.2"/><circle cx="568.01" cy="382.22" r="6.2"/><circle cx="573.61" cy="315.74" r="6.2"/><circle cx="579.21" cy="247.27" r="6.2"/><circle cx="584.81" cy="184.08" r="6.2"/><circle cx="590.4" cy="132.47" r="6.2"/><circle cx="596" cy="96.52" r="6.2"/><circle cx="601.6" cy="69.2" r="6.2"/><circle cx="607.2" cy="50.11" r="6.2"/><circle cx="612.8" cy="43.86" r="6.2"/><circle cx="618.4" cy="45.17" r="6.2"/><circle cx="624" cy="55.31" r="6.2"/><circle cx="629.6" cy="77.83" r="6.2"/><circle cx="635.2" cy="107.65" r="6.2"/><circle cx="640.79" cy="148.07" r="6.2"/><circle cx="646.39" cy="204.48" r="6.2"/><circle cx="651.99" cy="272.29" r="6.2"/><circle cx="657.59" cy="334.83" r="6.2"/><circle cx="663.19" cy="400" r="6.2"/><circle cx="668.79" cy="463.2" r="6.2"/><circle cx="674.39" cy="504.21" r="6.2"/><circle cx="679.99" cy="541.86" r="6.2"/><circle cx="685.58" cy="578.4" r="6.2"/><circle cx="691.18" cy="607.03" r="6.2"/><circle cx="696.78" cy="633.89" r="6.2"/><circle cx="702.38" cy="660.03" r="6.2"/><circle cx="707.98" cy="677.07" r="6.2"/><circle cx="713.58" cy="691.11" r="6.2"/><circle cx="719.18" cy="695.61" r="6.2"/><circle cx="724.77" cy="695.9" r="6.2"/><circle cx="730.37" cy="694.58" r="6.2"/><circle cx="735.97" cy="690.09" r="6.2"/><circle cx="741.57" cy="682.81" r="6.2"/><circle cx="747.17" cy="673.43" r="6.2"/><circle cx="752.77" cy="664.29" r="6.2"/><circle cx="758.37" cy="655.67" r="6.2"/><circle cx="763.97" cy="648.6" r="6.2"/><circle cx="769.57" cy="642.82" r="6.2"/><circle cx="775.16" cy="639.1" r="6.2"/><circle cx="780.76" cy="637.7" r="6.2"/><circle cx="786.36" cy="639.22" r="6.2"/><circle cx="791.96" cy="642.01" r="6.2"/><circle cx="797.56" cy="645.73" r="6.2"/><circle cx="803.16" cy="651.14" r="6.2"/><circle cx="808.76" cy="656.75" r="6.2"/><circle cx="814.36" cy="662.81" r="6.2"/><circle cx="819.95" cy="668.76" r="6.2"/><circle cx="825.55" cy="674.61" r="6.2"/><circle cx="831.15" cy="680.2" r="6.2"/><circle cx="836.75" cy="685.28" r="6.2"/><circle cx="842.35" cy="689.83" r="6.2"/><circle cx="847.95" cy="693.52" r="6.2"/><circle cx="853.55" cy="696.37" r="6.2"/><circle cx="859.15" cy="697.26" r="6.2"/><circle cx="864.74" cy="697.66" r="6.2"/><circle cx="870.34" cy="697.53" r="6.2"/><circle cx="875.94" cy="696.96" r="6.2"/><circle cx="881.54" cy="696.04" r="6.2"/><circle cx="887.14" cy="694.44" r="6.2"/><circle cx="892.74" cy="692.73" r="6.2"/><circle cx="898.34" cy="691.25" r="6.2"/><circle cx="903.93" cy="689.76" r="6.2"/><circle cx="909.53" cy="688.58" r="6.2"/><circle cx="915.13" cy="687.85" r="6.2"/><circle cx="920.73" cy="687.38" r="6.2"/><circle cx="926.33" cy="687.51" r="6.2"/><circle cx="931.93" cy="688.12" r="6.2"/><circle cx="937.53" cy="689.01" r="6.2"/><circle cx="943.13" cy="690.4" r="6.2"/><circle cx="948.73" cy="691.89" r="6.2"/><circle cx="954.32" cy="693.21" r="6.2"/><circle cx="959.92" cy="694.56" r="6.2"/><circle cx="965.52" cy="695.66" r="6.2"/><circle cx="971.12" cy="696.38" r="6.2"/><circle cx="976.72" cy="696.95" r="6.2"/><circle cx="982.32" cy="697.34" r="6.2"/><circle cx="987.92" cy="697.56" r="6.2"/><circle cx="993.52" cy="697.74" r="6.2"/><circle cx="999.11" cy="697.88" r="6.2"/><circle cx="1004.71" cy="697.94" r="6.2"/><circle cx="1010.31" cy="697.95" r="6.2"/><circle cx="1015.91" cy="697.95" r="6.2"/><circle cx="1021.51" cy="697.95" r="6.2"/><circle cx="1027.11" cy="697.95" r="6.2"/><circle cx="1032.71" cy="697.95" r="6.2"/><circle cx="1038.31" cy="697.95" r="6.2"/><circle cx="1043.9" cy="697.95" r="6.2"/><circle cx="1049.5" cy="697.95" r="6.2"/><circle cx="1055.1" cy="697.95" r="6.2"/><circle cx="1060.7" cy="697.95" r="6.2"/></g>
</g></g>
<g id="plot-b"><path d="M1280.5 43.1V701.3M1392.5 43.1V701.3M1504.5 43.1V701.3M1615.5 43.1V701.3M1727.5 43.1V701.3M1839.5 43.1V701.3M1951.5 43.1V701.3M2063.5 43.1V701.3M1224.5 635.5H2119.5M1224.5 372.5H2119.5M1224.5 240.5H2119.5" fill="none" stroke="#00ff00" stroke-width="1.25" stroke-dasharray="1.3 2.9"/>
<path d="M1336.5 43.1V701.3M1448.5 43.1V701.3M1560.5 43.1V701.3M1671.5 43.1V701.3M1784.5 43.1V701.3M1896.5 43.1V701.3M2007.5 43.1V701.3M1224.5 569.5H2119.5M1224.5 438.5H2119.5M1224.5 306.5H2119.5M1224.5 174.5H2119.5" fill="none" stroke="#0000ff" stroke-width="1.15"/>
<rect x="1240.5" y="98.5" width="182.5" height="148" fill="#fff"/>
<text x="1255" y="161.8" font-size="52" class="b">(b)</text>
<text x="1255" y="226" font-size="52" class="b">TC=32</text>
<g clip-path="url(#cib)"><rect x="1848.2" y="53.9" width="256.6" height="247.6" fill="#000"/>
<g transform="translate(1973.9 170.5)"><circle r="200" fill="url(#gtb)"/><path transform="scale(1 1)" d="M0 0H200 V200 H0Z" fill="url(#geb)"/></g></g>
<rect x="1224.5" y="43.1" width="895" height="658.2" fill="none" stroke="#000" stroke-width="2.6"/>
<path d="M1224.5 701.3v14.5M1280.45 701.3v8.5M1336.4 701.3v14.5M1392.35 701.3v8.5M1448.3 701.3v14.5M1504.25 701.3v8.5M1560.2 701.3v14.5M1616.15 701.3v8.5M1672.1 701.3v14.5M1728.05 701.3v8.5M1784 701.3v14.5M1839.95 701.3v8.5M1895.9 701.3v14.5M1951.85 701.3v8.5M2007.8 701.3v14.5M2063.75 701.3v8.5M2119.7 701.3v14.5M1224.5 701.5h-14.5M1224.5 635.67h-8.5M1224.5 569.84h-14.5M1224.5 504.01h-8.5M1224.5 438.18h-14.5M1224.5 372.35h-8.5M1224.5 306.52h-14.5M1224.5 240.69h-8.5M1224.5 174.86h-14.5M1224.5 109.03h-8.5M1224.5 43.2h-14.5" stroke="#000" stroke-width="2.6" fill="none"/>
<text x="1224" y="755.6" font-size="42" text-anchor="middle" class="b">-80</text>
<text x="1335.9" y="755.6" font-size="42" text-anchor="middle" class="b">-60</text>
<text x="1447.8" y="755.6" font-size="42" text-anchor="middle" class="b">-40</text>
<text x="1559.7" y="755.6" font-size="42" text-anchor="middle" class="b">-20</text>
<text x="1671.6" y="755.6" font-size="42" text-anchor="middle" class="b">0</text>
<text x="1783.5" y="755.6" font-size="42" text-anchor="middle" class="b">20</text>
<text x="1895.4" y="755.6" font-size="42" text-anchor="middle" class="b">40</text>
<text x="2007.3" y="755.6" font-size="42" text-anchor="middle" class="b">60</text>
<text x="2119.2" y="755.6" font-size="42" text-anchor="middle" class="b">80</text>
<text x="1201.7" y="712.8" font-size="42" text-anchor="end" class="b">0.0</text>
<text x="1201.7" y="581.14" font-size="42" text-anchor="end" class="b">0.2</text>
<text x="1201.7" y="449.48" font-size="42" text-anchor="end" class="b">0.4</text>
<text x="1201.7" y="317.82" font-size="42" text-anchor="end" class="b">0.6</text>
<text x="1201.7" y="186.16" font-size="42" text-anchor="end" class="b">0.8</text>
<text x="1201.7" y="54.5" font-size="42" text-anchor="end" class="b">1.0</text>
<text x="1672.1" y="817.2" font-size="53.5" text-anchor="middle" class="b" textLength="632" lengthAdjust="spacing">Transverse coordinate (pix.)</text>
<text transform="translate(1122.5 383) rotate(-90)" font-size="53.5" text-anchor="middle" class="b" textLength="467" lengthAdjust="spacing">Intensity (arb. units)</text>
<g clip-path="url(#cpb)">
<polyline points="1224.5,684.96 1230.1,681.42 1235.69,680.16 1241.29,681.5 1246.88,685.16 1252.47,690.25 1258.07,695.52 1263.66,699.62 1269.26,701.46 1274.86,700.49 1280.45,696.84 1286.05,691.28 1291.64,685.1 1297.23,679.77 1302.83,676.6 1308.42,676.39 1314.02,679.23 1319.62,684.48 1325.21,690.84 1330.81,696.72 1336.4,700.6 1341.99,701.37 1347.59,698.69 1353.18,693.04 1358.78,685.67 1364.38,678.28 1369.97,672.64 1375.57,670.16 1381.16,671.5 1386.75,676.4 1392.35,683.7 1397.94,691.59 1403.54,698.05 1409.13,701.32 1414.73,700.35 1420.33,695.11 1425.92,686.62 1431.51,676.74 1437.11,667.77 1442.7,661.89 1448.3,660.61 1453.89,664.34 1459.49,672.27 1465.09,682.51 1470.68,692.47 1476.27,699.47 1481.87,701.42 1487.46,697.36 1493.06,687.77 1498.65,674.52 1504.25,660.49 1509.84,648.96 1515.44,642.76 1521.03,643.6 1526.63,651.5 1532.22,664.74 1537.82,680.06 1543.41,693.41 1549.01,700.86 1554.61,699.57 1560.2,688.58 1565.79,669.22 1571.39,645.02 1576.98,621.02 1582.58,602.73 1588.17,594.81 1593.77,599.86 1599.37,617.47 1604.96,643.9 1610.55,672.47 1616.15,694.56 1621.74,701.18 1627.34,684.75 1632.93,640.81 1638.53,569.22 1644.12,474.63 1649.72,366.17 1655.32,256.16 1660.91,158.29 1666.5,85.4 1672.1,47.36 1677.69,49.4 1683.29,91.25 1688.88,167.15 1694.48,266.84 1700.07,377.31 1705.67,484.9 1711.26,577.53 1716.86,646.49 1722.45,687.59 1728.05,701.45 1733.64,692.91 1739.24,669.76 1744.84,641.03 1750.43,615.22 1756.02,598.76 1761.62,595.04 1767.21,604.15 1772.81,623.25 1778.4,647.52 1784,671.45 1789.59,690.09 1795.19,700.14 1800.78,700.48 1806.38,692.28 1811.97,678.55 1817.57,663.26 1823.16,650.43 1828.76,643.18 1834.36,643.08 1839.95,649.91 1845.54,661.83 1851.14,675.93 1856.73,688.94 1862.33,698.04 1867.92,701.49 1873.52,698.97 1879.11,691.56 1884.71,681.46 1890.3,671.34 1895.9,663.75 1901.49,660.51 1907.09,662.29 1912.68,668.56 1918.28,677.72 1923.88,687.56 1929.47,695.81 1935.06,700.65 1940.66,701.18 1946.25,697.53 1951.85,690.83 1957.44,682.91 1963.04,675.77 1968.63,671.19 1974.23,670.24 1979.82,673.08 1985.42,678.96 1991.01,686.44 1996.61,693.71 2002.2,699.1 2007.8,701.45 2013.39,700.33 2018.99,696.2 2024.59,690.2 2030.18,683.88 2035.77,678.83 2041.37,676.27 2046.96,676.79 2052.56,680.22 2058.15,685.7 2063.75,691.88 2069.34,697.3 2074.94,700.72 2080.53,701.4 2086.13,699.29 2091.72,695.02 2097.32,689.71 2102.91,684.71 2108.51,681.25 2114.1,680.17 2119.7,681.69" fill="none" stroke="#ff0000" stroke-width="5" stroke-linejoin="miter" stroke-miterlimit="6"/>
<polyline points="1224.5,701.5 1230.1,701.49 1235.69,701.48 1241.29,701.46 1246.88,701.44 1252.47,701.44 1258.07,701.46 1263.66,701.48 1269.26,701.5 1274.86,701.49 1280.45,701.43 1286.05,701.31 1291.64,701.15 1297.23,700.97 1302.83,700.81 1308.42,700.72 1314.02,700.72 1319.62,700.82 1325.21,701.01 1330.81,701.25 1336.4,701.45 1341.99,701.49 1347.59,701.28 1353.18,700.77 1358.78,699.99 1364.38,699.05 1369.97,698.16 1375.57,697.53 1381.16,697.33 1386.75,697.65 1392.35,698.48 1397.94,699.64 1403.54,700.79 1409.13,701.46 1414.73,701.22 1420.33,699.79 1425.92,697.21 1431.51,693.86 1437.11,690.44 1442.7,687.79 1448.3,686.64 1453.89,687.37 1459.49,689.91 1465.09,693.66 1470.68,697.62 1476.27,700.59 1481.87,701.46 1487.46,699.53 1493.06,694.74 1498.65,687.79 1504.25,680.02 1509.84,673.15 1515.44,668.87 1521.03,668.41 1526.63,672.13 1532.22,679.49 1537.82,687.47 1543.41,697.59 1549.01,699.16 1554.61,695.33 1560.2,685.93 1565.79,672.85 1571.39,652.38 1576.98,635.6 1582.58,618.31 1588.17,613.22 1593.77,616.39 1599.37,631.75 1604.96,651.71 1610.55,671.45 1616.15,692.42 1621.74,699.16 1627.34,685.68 1632.93,643.45 1638.53,573.55 1644.12,479.96 1649.72,371.44 1655.32,260.38 1660.91,160.89 1666.5,86.43 1672.1,47.46 1677.69,49.56 1683.29,92.42 1688.88,169.92 1694.48,271.2 1700.07,382.63 1705.67,490.17 1711.26,581.71 1716.86,648.94 1722.45,688.38 1728.05,700.68 1733.64,685.93 1739.24,664.4 1744.84,644.34 1750.43,625.59 1756.02,613.88 1761.62,613.88 1767.21,622.81 1772.81,641.66 1778.4,659.56 1784,678.7 1789.59,690.98 1795.19,699.16 1800.78,699.16 1806.38,693.87 1811.97,683.81 1817.57,674.18 1823.16,671.58 1828.76,668.27 1834.36,669.14 1839.95,673.74 1845.54,680.78 1851.14,688.55 1856.73,695.33 1862.33,699.85 1867.92,701.49 1873.52,700.38 1879.11,697.25 1884.71,693.25 1890.3,689.58 1895.9,687.21 1901.49,686.67 1907.09,688 1912.68,690.76 1918.28,694.21 1923.88,697.51 1929.47,699.99 1935.06,701.29 1940.66,701.43 1946.25,700.69 1951.85,699.52 1957.44,698.38 1963.04,697.6 1968.63,697.33 1974.23,697.58 1979.82,698.24 1985.42,699.15 1991.01,700.08 1996.61,700.84 2002.2,701.32 2007.8,701.5 2013.39,701.43 2018.99,701.22 2024.59,700.99 2030.18,700.8 2035.77,700.71 2041.37,700.73 2046.96,700.82 2052.56,700.98 2058.15,701.16 2063.75,701.32 2069.34,701.43 2074.94,701.49 2080.53,701.5 2086.13,701.48 2091.72,701.46 2097.32,701.44 2102.91,701.45 2108.51,701.46 2114.1,701.48 2119.7,701.49" fill="none" stroke="#000000" stroke-width="4.4" stroke-linejoin="miter" stroke-miterlimit="6"/>
<g fill="none" stroke="#000080" stroke-width="1.9"><circle cx="1224.5" cy="697.94" r="6.2"/><circle cx="1230.1" cy="697.94" r="6.2"/><circle cx="1235.69" cy="697.92" r="6.2"/><circle cx="1241.29" cy="697.9" r="6.2"/><circle cx="1246.88" cy="697.89" r="6.2"/><circle cx="1252.47" cy="697.89" r="6.2"/><circle cx="1258.07" cy="697.9" r="6.2"/><circle cx="1263.66" cy="697.93" r="6.2"/><circle cx="1269.26" cy="697.94" r="6.2"/><circle cx="1274.86" cy="697.93" r="6.2"/><circle cx="1280.45" cy="697.87" r="6.2"/><circle cx="1286.05" cy="697.75" r="6.2"/><circle cx="1291.64" cy="697.58" r="6.2"/><circle cx="1297.23" cy="697.39" r="6.2"/><circle cx="1302.83" cy="697.23" r="6.2"/><circle cx="1308.42" cy="697.14" r="6.2"/><circle cx="1314.02" cy="697.14" r="6.2"/><circle cx="1319.62" cy="697.24" r="6.2"/><circle cx="1325.21" cy="697.44" r="6.2"/><circle cx="1330.81" cy="697.69" r="6.2"/><circle cx="1336.4" cy="697.89" r="6.2"/><circle cx="1341.99" cy="697.94" r="6.2"/><circle cx="1347.59" cy="697.72" r="6.2"/><circle cx="1353.18" cy="697.2" r="6.2"/><circle cx="1358.78" cy="696.39" r="6.2"/><circle cx="1364.38" cy="695.42" r="6.2"/><circle cx="1369.97" cy="694.5" r="6.2"/><circle cx="1375.57" cy="693.85" r="6.2"/><circle cx="1381.16" cy="693.65" r="6.2"/><circle cx="1386.75" cy="693.98" r="6.2"/><circle cx="1392.35" cy="694.83" r="6.2"/><circle cx="1397.94" cy="696.03" r="6.2"/><circle cx="1403.54" cy="697.21" r="6.2"/><circle cx="1409.13" cy="697.9" r="6.2"/><circle cx="1414.73" cy="697.65" r="6.2"/><circle cx="1420.33" cy="696.18" r="6.2"/><circle cx="1425.92" cy="693.52" r="6.2"/><circle cx="1431.51" cy="690.07" r="6.2"/><circle cx="1437.11" cy="686.55" r="6.2"/><circle cx="1442.7" cy="683.81" r="6.2"/><circle cx="1448.3" cy="682.62" r="6.2"/><circle cx="1453.89" cy="683.38" r="6.2"/><circle cx="1459.49" cy="685.99" r="6.2"/><circle cx="1465.09" cy="689.86" r="6.2"/><circle cx="1470.68" cy="693.95" r="6.2"/><circle cx="1476.27" cy="697.01" r="6.2"/><circle cx="1481.87" cy="697.91" r="6.2"/><circle cx="1487.46" cy="695.91" r="6.2"/><circle cx="1493.06" cy="690.98" r="6.2"/><circle cx="1498.65" cy="683.81" r="6.2"/><circle cx="1504.25" cy="675.8" r="6.2"/><circle cx="1509.84" cy="668.72" r="6.2"/><circle cx="1515.44" cy="664.31" r="6.2"/><circle cx="1521.03" cy="663.84" r="6.2"/><circle cx="1526.63" cy="667.66" r="6.2"/><circle cx="1532.22" cy="677.8" r="6.2"/><circle cx="1537.82" cy="685.04" r="6.2"/><circle cx="1543.41" cy="693.8" r="6.2"/><circle cx="1549.01" cy="695.11" r="6.2"/><circle cx="1554.61" cy="691.89" r="6.2"/><circle cx="1560.2" cy="683.66" r="6.2"/><circle cx="1565.79" cy="671.61" r="6.2"/><circle cx="1571.39" cy="651.93" r="6.2"/><circle cx="1576.98" cy="635.41" r="6.2"/><circle cx="1582.58" cy="618.23" r="6.2"/><circle cx="1588.17" cy="613.16" r="6.2"/><circle cx="1593.77" cy="616.32" r="6.2"/><circle cx="1599.37" cy="631.59" r="6.2"/><circle cx="1604.96" cy="651.27" r="6.2"/><circle cx="1610.55" cy="670.3" r="6.2"/><circle cx="1616.15" cy="689.39" r="6.2"/><circle cx="1621.74" cy="695.11" r="6.2"/><circle cx="1627.34" cy="660.03" r="6.2"/><circle cx="1632.93" cy="622.31" r="6.2"/><circle cx="1638.53" cy="575.11" r="6.2"/><circle cx="1644.12" cy="493.48" r="6.2"/><circle cx="1649.72" cy="390.39" r="6.2"/><circle cx="1655.32" cy="262.81" r="6.2"/><circle cx="1660.91" cy="155.24" r="6.2"/><circle cx="1666.5" cy="68.74" r="6.2"/><circle cx="1672.1" cy="46.49" r="6.2"/><circle cx="1677.69" cy="48.73" r="6.2"/><circle cx="1683.29" cy="90.2" r="6.2"/><circle cx="1688.88" cy="190.26" r="6.2"/><circle cx="1694.48" cy="306.32" r="6.2"/><circle cx="1700.07" cy="428.5" r="6.2"/><circle cx="1705.67" cy="523.1" r="6.2"/><circle cx="1711.26" cy="594.72" r="6.2"/><circle cx="1716.86" cy="635.34" r="6.2"/><circle cx="1722.45" cy="671.48" r="6.2"/><circle cx="1728.05" cy="696.37" r="6.2"/><circle cx="1733.64" cy="683.66" r="6.2"/><circle cx="1739.24" cy="663.58" r="6.2"/><circle cx="1744.84" cy="644.03" r="6.2"/><circle cx="1750.43" cy="625.47" r="6.2"/><circle cx="1756.02" cy="613.81" r="6.2"/><circle cx="1761.62" cy="613.81" r="6.2"/><circle cx="1767.21" cy="622.7" r="6.2"/><circle cx="1772.81" cy="641.4" r="6.2"/><circle cx="1778.4" cy="658.91" r="6.2"/><circle cx="1784" cy="677.08" r="6.2"/><circle cx="1789.59" cy="688.14" r="6.2"/><circle cx="1795.19" cy="695.11" r="6.2"/><circle cx="1800.78" cy="695.11" r="6.2"/><circle cx="1806.38" cy="690.64" r="6.2"/><circle cx="1811.97" cy="681.75" r="6.2"/><circle cx="1817.57" cy="672.86" r="6.2"/><circle cx="1823.16" cy="667.1" r="6.2"/><circle cx="1828.76" cy="663.69" r="6.2"/><circle cx="1834.36" cy="664.59" r="6.2"/><circle cx="1839.95" cy="669.33" r="6.2"/><circle cx="1845.54" cy="676.59" r="6.2"/><circle cx="1851.14" cy="684.59" r="6.2"/><circle cx="1856.73" cy="691.59" r="6.2"/><circle cx="1862.33" cy="696.25" r="6.2"/><circle cx="1867.92" cy="697.94" r="6.2"/><circle cx="1873.52" cy="696.79" r="6.2"/><circle cx="1879.11" cy="693.57" r="6.2"/><circle cx="1884.71" cy="689.45" r="6.2"/><circle cx="1890.3" cy="685.66" r="6.2"/><circle cx="1895.9" cy="683.21" r="6.2"/><circle cx="1901.49" cy="682.66" r="6.2"/><circle cx="1907.09" cy="684.02" r="6.2"/><circle cx="1912.68" cy="686.88" r="6.2"/><circle cx="1918.28" cy="690.43" r="6.2"/><circle cx="1923.88" cy="693.83" r="6.2"/><circle cx="1929.47" cy="696.39" r="6.2"/><circle cx="1935.06" cy="697.73" r="6.2"/><circle cx="1940.66" cy="697.87" r="6.2"/><circle cx="1946.25" cy="697.11" r="6.2"/><circle cx="1951.85" cy="695.9" r="6.2"/><circle cx="1957.44" cy="694.73" r="6.2"/><circle cx="1963.04" cy="693.92" r="6.2"/><circle cx="1968.63" cy="693.65" r="6.2"/><circle cx="1974.23" cy="693.9" r="6.2"/><circle cx="1979.82" cy="694.58" r="6.2"/><circle cx="1985.42" cy="695.52" r="6.2"/><circle cx="1991.01" cy="696.48" r="6.2"/><circle cx="1996.61" cy="697.26" r="6.2"/><circle cx="2002.2" cy="697.76" r="6.2"/><circle cx="2007.8" cy="697.94" r="6.2"/><circle cx="2013.39" cy="697.87" r="6.2"/><circle cx="2018.99" cy="697.66" r="6.2"/><circle cx="2024.59" cy="697.42" r="6.2"/><circle cx="2030.18" cy="697.23" r="6.2"/><circle cx="2035.77" cy="697.13" r="6.2"/><circle cx="2041.37" cy="697.15" r="6.2"/><circle cx="2046.96" cy="697.25" r="6.2"/><circle cx="2052.56" cy="697.41" r="6.2"/><circle cx="2058.15" cy="697.6" r="6.2"/><circle cx="2063.75" cy="697.76" r="6.2"/><circle cx="2069.34" cy="697.88" r="6.2"/><circle cx="2074.94" cy="697.93" r="6.2"/><circle cx="2080.53" cy="697.94" r="6.2"/><circle cx="2086.13" cy="697.93" r="6.2"/><circle cx="2091.72" cy="697.9" r="6.2"/><circle cx="2097.32" cy="697.89" r="6.2"/><circle cx="2102.91" cy="697.89" r="6.2"/><circle cx="2108.51" cy="697.9" r="6.2"/><circle cx="2114.1" cy="697.92" r="6.2"/><circle cx="2119.7" cy="697.94" r="6.2"/></g>
</g></g>
</svg>
</body></html>
